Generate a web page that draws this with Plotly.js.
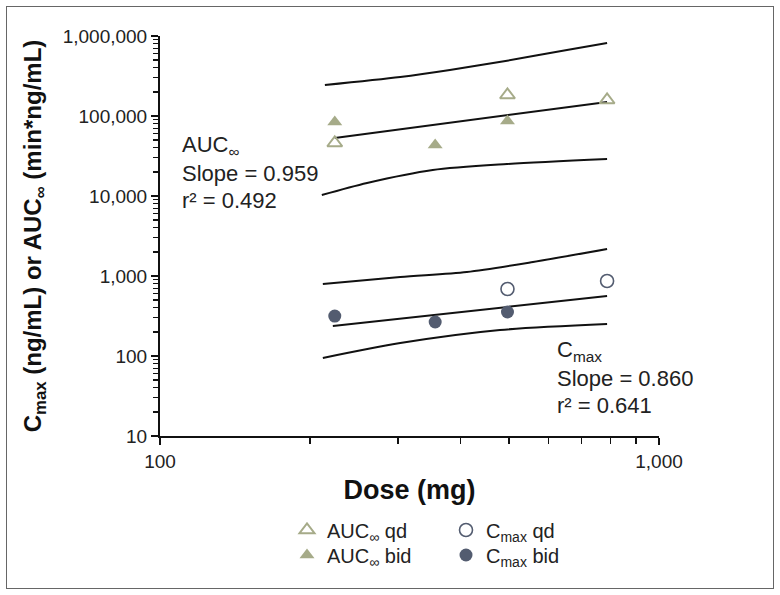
<!DOCTYPE html>
<html>
<head>
<meta charset="utf-8">
<script src="https://cdn.plot.ly/plotly-3.0.1.min.js"></script>
<style>
  html, body { margin: 0; padding: 0; background: #fff; }
  #wrap { position: relative; width: 780px; height: 595px; }
  #chart { width: 780px; height: 595px; }
  #frame { position: absolute; left: 6px; top: 6px; width: 766px; height: 581px;
           border: 1.5px solid #666; pointer-events: none; }
</style>
</head>
<body>
<div id="wrap"><div id="chart"></div><div id="frame"></div></div>
<script>
// ---- data ----
const aucQdDose  = [224, 497, 787];
const aucQd      = [45970, 183000, 158500];
const aucBidDose = [224, 356, 497];
const aucBid     = [84100, 43400, 86600];
const cmaxQdDose  = [497, 787];
const cmaxQd      = [688, 866];
const cmaxBidDose = [224, 356, 497];
const cmaxBid     = [316, 266, 355];

const aucFitDose    = [224, 787];
const aucFit        = [53100, 149600];
const aucUpperDose  = [214, 303, 381, 496, 654, 787];
const aucUpper      = [244000, 307300, 375800, 491000, 668300, 817500];
const aucLowerDose  = [211, 260, 352, 496, 787];
const aucLower      = [10290, 14540, 21130, 25120, 29000];

const cmaxFitDose   = [222, 787];
const cmaxFit       = [237, 562];
const cmaxUpperDose = [212, 303, 412, 559, 787];
const cmaxUpper     = [794, 972, 1122, 1496, 2175];
const cmaxLowerDose = [212, 303, 480, 787];
const cmaxLower     = [94.4, 145, 211, 251];

const yTickVals = [10, 100, 1000, 10000, 100000, 1000000];
const yTickText = ['10', '100', '1,000', '10,000', '100,000', '1,000,000'];
const xTickVals = [100, 1000];
const xTickText = ['100', '1,000'];

// ---- styling ----
const olive = '#a6ab89';
const slate = '#535c70';
const regular = '"Liberation Sans", Arial, sans-serif';

function lineTrace(x, y, smooth) {
  return { x: x, y: y, type: 'scatter', mode: 'lines', showlegend: false, hoverinfo: 'skip',
           line: { color: '#111', width: 2, shape: smooth ? 'spline' : 'linear', smoothing: 0.8 } };
}

const traces = [
  lineTrace(aucUpperDose, aucUpper, true),
  lineTrace(aucFitDose, aucFit, false),
  lineTrace(aucLowerDose, aucLower, true),
  lineTrace(cmaxUpperDose, cmaxUpper, true),
  lineTrace(cmaxFitDose, cmaxFit, false),
  lineTrace(cmaxLowerDose, cmaxLower, true),
  { x: aucQdDose, y: aucQd, type: 'scatter', mode: 'markers', name: 'AUC<sub>∞</sub> qd', legend: 'legend',
    marker: { symbol: 'triangle-up-open', size: 13, color: olive, line: { color: olive, width: 2 } } },
  { x: cmaxQdDose, y: cmaxQd, type: 'scatter', mode: 'markers', name: 'C<sub>max</sub> qd', legend: 'legend',
    marker: { symbol: 'circle-open', size: 13, color: slate, line: { color: slate, width: 1.6 } } },
  { x: aucBidDose, y: aucBid, type: 'scatter', mode: 'markers', name: 'AUC<sub>∞</sub> bid', legend: 'legend2',
    marker: { symbol: 'triangle-up', size: 13, color: olive } },
  { x: cmaxBidDose, y: cmaxBid, type: 'scatter', mode: 'markers', name: 'C<sub>max</sub> bid', legend: 'legend2',
    marker: { symbol: 'circle', size: 13, color: slate } }
];

const annFont = { family: regular, size: 22, color: '#222' };
function ann(text, xpx, ypx) {
  return { text: text, xref: 'paper', yref: 'paper', x: (xpx - 160) / 499, y: (436 - ypx) / 400,
           xanchor: 'left', yanchor: 'middle', showarrow: false, font: annFont, align: 'left' };
}

function legendBox(ypx) {
  return {
    orientation: 'h', x: (287 - 160) / 499, y: (436 - ypx) / 400, xanchor: 'left', yanchor: 'middle',
    entrywidth: 114, entrywidthmode: 'pixels',
    font: { family: regular, size: 20, color: '#222' }, bgcolor: 'rgba(0,0,0,0)', traceorder: 'normal'
  };
}

const layout = {
  width: 780, height: 595,
  margin: { l: 160, r: 121, t: 36, b: 159 },
  paper_bgcolor: '#fff', plot_bgcolor: '#fff',
  showlegend: true,
  xaxis: {
    type: 'log', range: [2, 3], showgrid: false, zeroline: false,
    showline: true, linecolor: '#111', linewidth: 2,
    tickmode: 'array', tickvals: xTickVals, ticktext: xTickText,
    ticks: 'outside', ticklen: 7, tickwidth: 2, tickcolor: '#111',
    minor: { ticks: 'outside', ticklen: 6, tickwidth: 1.5, tickcolor: '#111', dtick: 'D1', showgrid: false },
    tickfont: { family: regular, size: 19, color: '#222' },
    title: { text: '<b>Dose (mg)</b>', font: { family: regular, size: 27, color: '#111' }, standoff: 9 }
  },
  yaxis: {
    type: 'log', range: [1, 6], showgrid: false, zeroline: false,
    showline: true, linecolor: '#111', linewidth: 2,
    tickmode: 'array', tickvals: yTickVals, ticktext: yTickText,
    ticks: 'outside', ticklen: 7, tickwidth: 2, tickcolor: '#111',
    minor: { ticks: 'outside', ticklen: 5, tickwidth: 1.2, tickcolor: '#111', dtick: 'D1', showgrid: false },
    tickfont: { family: regular, size: 19, color: '#222' },
    title: { text: '<b>C<sub>max</sub> (ng/mL) or AUC<sub>∞</sub> (min*ng/mL)</b>',
             font: { family: regular, size: 24, color: '#111' }, standoff: 14 }
  },
  legend: legendBox(530),
  legend2: legendBox(555),
  annotations: [
    ann('AUC<sub>∞</sub>', 180, 146),
    ann('Slope = 0.959', 180, 173),
    ann('r² = 0.492', 180, 200),
    ann('C<sub>max</sub>', 555, 351),
    ann('Slope = 0.860', 555, 378),
    ann('r² = 0.641', 555, 405)
  ]
};

Plotly.newPlot('chart', traces, layout, { displayModeBar: false, staticPlot: true });
</script>
</body>
</html>
